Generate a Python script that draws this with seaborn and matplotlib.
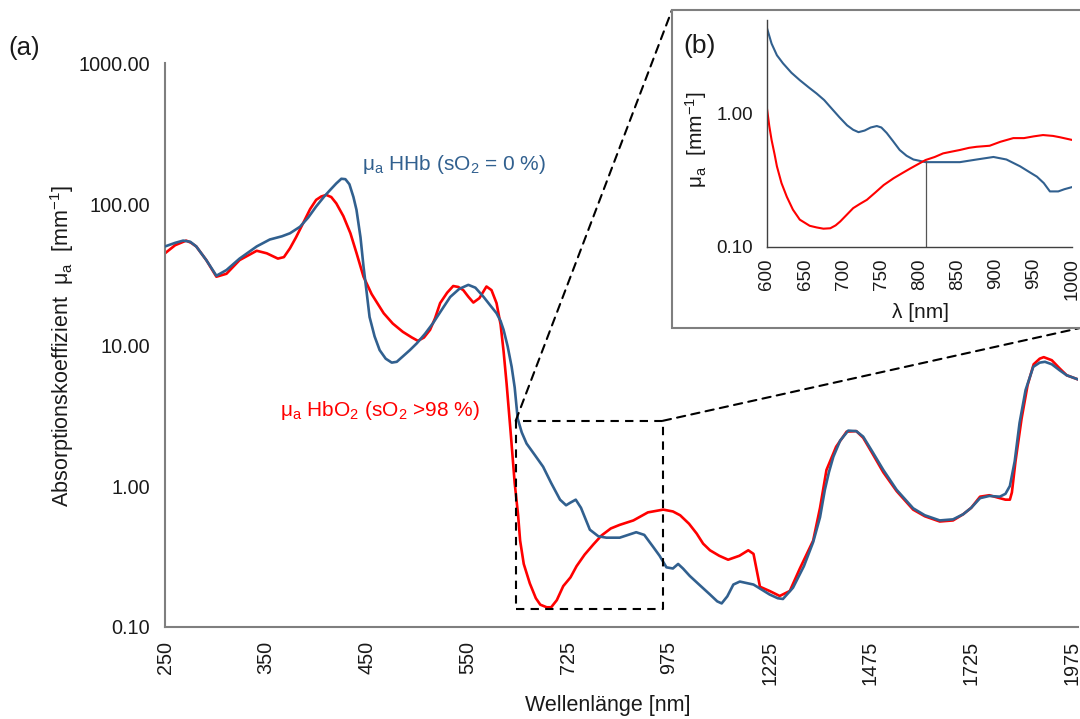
import numpy as np
import pandas as pd
import matplotlib
matplotlib.use("Agg")
import matplotlib.pyplot as plt
import seaborn as sns
from matplotlib.patches import Rectangle, ConnectionPatch
from matplotlib.ticker import NullLocator, FixedLocator, FixedFormatter

# ---------------- data (main panel) ----------------
wl_hhb = [250, 260, 268, 275, 281, 291, 301, 311, 324, 341, 354, 366, 374, 384, 392, 400, 408, 414, 420,
          425, 429, 433, 437, 440, 444, 447, 450, 453, 458, 463, 469, 475, 480, 486, 493, 500, 508, 516, 524,
          533, 542, 551, 558, 566, 573, 579, 583, 586, 590, 594, 597, 600, 610, 622, 643,
          663, 683, 705, 720, 730, 744, 757, 779, 800, 820, 853, 894, 914, 936, 952, 969, 985, 998,
          1010, 1027, 1050, 1077, 1095, 1106, 1120, 1135, 1151, 1185, 1225, 1245, 1258, 1283, 1310, 1333,
          1350, 1362, 1372, 1383, 1400, 1420, 1440, 1457, 1480, 1507, 1540, 1581, 1610, 1647, 1680, 1705,
          1725, 1747, 1770, 1796, 1810, 1821, 1833, 1845, 1860, 1879, 1895, 1908, 1925, 1945, 1962, 1990]
mu_hhb = [50, 53, 55, 54, 50, 40, 31, 34, 41, 50, 56, 59, 62, 69, 80, 96, 113, 126, 140,
          151, 150, 138, 112, 91, 58, 36, 24, 15.8, 11.5, 9.2, 8.0, 7.5, 7.6, 8.3, 9.2, 10.3, 12.0, 14.3, 17.5,
          21.9, 25, 26.7, 25.5, 22, 19, 16.8, 14.8, 12.8, 9.8, 7.0, 5.0, 3.0, 2.4, 2.0, 1.65,
          1.37, 1.05, 0.80, 0.73, 0.76, 0.80, 0.70, 0.49, 0.44, 0.43, 0.43, 0.47, 0.45, 0.37, 0.32, 0.265, 0.26, 0.28,
          0.26, 0.23, 0.20, 0.17, 0.152, 0.147, 0.165, 0.20, 0.21, 0.20, 0.17, 0.16, 0.158, 0.19, 0.27, 0.40,
          0.60, 0.94, 1.25, 1.61, 2.1, 2.47, 2.45, 2.24, 1.75, 1.30, 0.94, 0.695, 0.62, 0.57, 0.58, 0.63,
          0.70, 0.82, 0.85, 0.84, 0.88, 1.0, 1.5, 2.8, 4.8, 7.0, 7.5, 7.6, 7.3, 6.6, 6.1, 5.7]

wl_hbo2 = [250, 260, 271, 276, 281, 291, 301, 311, 324, 341, 351, 362, 368, 374, 380, 387, 394, 400, 405,
           410, 415, 420, 427, 434, 440, 447, 455, 467, 476, 486, 495, 501, 507, 513, 518, 523, 530, 536, 541,
           546, 551, 556, 562, 569, 574, 579, 583, 586, 589, 593, 597, 601, 606, 615, 630,
           645, 656, 672, 683, 697, 713, 731, 746, 766, 788, 808, 831, 853, 887, 923, 961, 985, 1003,
           1025, 1044, 1060, 1077, 1100, 1122, 1150, 1172, 1185, 1201, 1225, 1250, 1275, 1300, 1333,
           1350, 1366, 1390, 1416, 1440, 1457, 1480, 1507, 1540, 1581, 1610, 1647, 1680, 1705,
           1725, 1747, 1770, 1796, 1810, 1821, 1826, 1835, 1850, 1865, 1880, 1895, 1905, 1925, 1945, 1962, 1990]
mu_hbo2 = [44.7, 51, 55, 53, 50, 40, 30.5, 32, 40, 46.6, 44.7, 41, 42, 48.5, 58, 73, 92, 107, 113,
           116, 112, 101, 82, 62, 45, 30.5, 23, 16.8, 14.2, 12.4, 11.3, 10.7, 11.3, 12.8, 15.5, 19.8, 23.5, 26.2, 25.8,
           24.5, 22, 20, 21.5, 26, 24.5, 19.8, 14, 9, 5.3, 2.4, 1.05, 0.62, 0.41, 0.28, 0.204,
           0.16, 0.144, 0.138, 0.138, 0.155, 0.195, 0.225, 0.27, 0.326, 0.386, 0.446, 0.50, 0.53, 0.57, 0.65, 0.68, 0.66, 0.62,
           0.54, 0.46, 0.39, 0.35, 0.32, 0.30, 0.32, 0.35, 0.33, 0.193, 0.18, 0.166, 0.18, 0.26, 0.41,
           0.70, 1.30, 1.9, 2.43, 2.45, 2.2, 1.70, 1.25, 0.92, 0.68, 0.61, 0.56, 0.57, 0.63,
           0.70, 0.84, 0.86, 0.82, 0.80, 0.80, 0.90, 1.5, 3.0, 5.2, 7.3, 8.0, 8.2, 7.8, 6.8, 6.1, 5.7]

# ---------------- data (inset panel) ----------------
wl_hhb_in = [600, 606, 613, 621, 632, 643, 655, 665, 675, 683, 695, 705, 713, 720, 728, 736, 744, 750,
             757, 765, 774, 783, 792, 800, 808, 830, 853, 875, 897, 914, 932, 945,
             954, 963, 971, 982, 990, 1000]
mu_hhb_in = [4.3, 3.3, 2.7, 2.35, 2.0, 1.76, 1.55, 1.40, 1.25, 1.11, 0.93, 0.81, 0.75, 0.72, 0.74, 0.78, 0.80, 0.78,
             0.71, 0.62, 0.53, 0.48, 0.45, 0.44, 0.43, 0.43, 0.43, 0.45, 0.47, 0.45, 0.40, 0.36,
             0.335, 0.30, 0.26, 0.26, 0.27, 0.28]
wl_hbo2_in = [600, 603, 606, 610, 613, 619, 626, 634, 643, 656, 665, 674, 683, 690, 696, 705, 713, 722, 731,
              742, 753, 766, 777, 788, 798, 808, 820, 831, 842, 853, 865, 875, 892, 906, 923, 937, 950, 962, 975, 984, 1000]
mu_hbo2_in = [1.08, 0.80, 0.63, 0.49, 0.40, 0.30, 0.237, 0.19, 0.16, 0.144, 0.140, 0.137, 0.138, 0.145, 0.155, 0.175, 0.195, 0.21, 0.225,
              0.255, 0.29, 0.326, 0.355, 0.386, 0.415, 0.446, 0.47, 0.50, 0.515, 0.53, 0.55, 0.56, 0.57, 0.61, 0.65, 0.65, 0.67, 0.685, 0.675, 0.66, 0.63]

x_ticks = [250, 350, 450, 550, 725, 975, 1225, 1475, 1725, 1975]
y_ticks = [0.1, 1, 10, 100, 1000]
y_tick_labels = ["0.10", "1.00", "10.00", "100.00", "1000.00"]
inset_x_ticks = [600, 650, 700, 750, 800, 850, 900, 950, 1000]
inset_y_ticks = [0.1, 1]
inset_y_tick_labels = ["0.10", "1.00"]
zoom_wl = [598, 960]
zoom_mu = [0.134, 2.9]
cross_wl = 808
cross_mu = 0.44

BLUE = "#31608F"
RED = "#FF0000"
SPINE = "#7F7F7F"
TXT = "#1a1a1a"

sns.set_theme(style="white")
plt.rcParams["font.family"] = ["Liberation Sans", "DejaVu Sans"]
plt.rcParams["mathtext.fontset"] = "custom"
plt.rcParams["mathtext.rm"] = "Liberation Sans"
plt.rcParams["mathtext.it"] = "Liberation Sans"
plt.rcParams["mathtext.default"] = "regular"


def fwd(w):
    w = np.asarray(w, dtype=float)
    return np.where(w <= 600, w - 250, 350 + (w - 600) / 2.5)


def inv(p):
    p = np.asarray(p, dtype=float)
    return np.where(p <= 350, p + 250, 600 + (p - 350) * 2.5)


W, H = 1080, 719
fig = plt.figure(figsize=(W / 100, H / 100), dpi=100)
ax = fig.add_axes([165 / W, 1 - 627 / H, 913 / W, 564 / H])
ax.set_xscale("function", functions=(fwd, inv))
ax.set_yscale("log")

df_h = pd.DataFrame({"wl": wl_hhb, "mu": mu_hhb})
df_o = pd.DataFrame({"wl": wl_hbo2, "mu": mu_hbo2})
sns.lineplot(data=df_h, x="wl", y="mu", color=BLUE, lw=1.9, sort=False, estimator=None, ax=ax, zorder=3)
sns.lineplot(data=df_o, x="wl", y="mu", color=RED, lw=1.9, sort=False, estimator=None, ax=ax, zorder=2)

ax.set_xlim(250, 1990)
ax.set_ylim(0.1, 1000)
ax.xaxis.set_major_locator(FixedLocator(x_ticks))
ax.xaxis.set_major_formatter(FixedFormatter([str(t) for t in x_ticks]))
ax.xaxis.set_minor_locator(NullLocator())
ax.yaxis.set_major_locator(FixedLocator(y_ticks))
ax.yaxis.set_major_formatter(FixedFormatter(y_tick_labels))
ax.yaxis.set_minor_locator(NullLocator())
ax.tick_params(axis="both", length=0, labelsize=14.3, colors=TXT)
ax.tick_params(axis="x", rotation=90, pad=10)
ax.tick_params(axis="y", pad=11)
for s in ["top", "right"]:
    ax.spines[s].set_visible(False)
for s in ["left", "bottom"]:
    ax.spines[s].set_color(SPINE)
    ax.spines[s].set_linewidth(1.5)
ax.set_xlabel("")
ax.set_ylabel("")

fig.text(608 / W, 1 - 705 / H, "Wellenlänge [nm]", ha="center", va="center", fontsize=15.5, color=TXT)
fig.text(62 / W, 1 - 346 / H, r"Absorptionskoeffizient  μ$_a$  [mm$^{-1}$]", rotation=90,
         ha="center", va="center", fontsize=15.5, color=TXT)
fig.text(8 / W, 1 - 48 / H, "(a)", ha="left", va="center", fontsize=18.5, color=TXT)

fig.text(362 / W, 1 - 165 / H, r"μ$_a$ HHb (sO$_2$ = 0 %)", ha="left", va="center", fontsize=15, color=BLUE)
fig.text(280 / W, 1 - 410 / H, r"μ$_a$ HbO$_2$ (sO$_2$ >98 %)", ha="left", va="center", fontsize=15, color=RED)

# zoom box
bx = [zoom_wl[0], zoom_wl[1], zoom_wl[1], zoom_wl[0], zoom_wl[0]]
by = [zoom_mu[0], zoom_mu[0], zoom_mu[1], zoom_mu[1], zoom_mu[0]]
ax.plot(bx, by, color="black", lw=1.5, ls=(0, (4, 3)), zorder=4)

# inset frame
frame = Rectangle((672 / W, 1 - 328 / H), 1.02 - 672 / W, 318 / H, transform=fig.transFigure,
                  facecolor="white", edgecolor=SPINE, lw=1.5, zorder=5)
fig.patches.append(frame)

con1 = ConnectionPatch(xyA=(zoom_wl[0], zoom_mu[1]), coordsA=ax.transData,
                       xyB=(672 / W, 1 - 10 / H), coordsB=fig.transFigure,
                       color="black", lw=1.5, ls=(0, (4, 3)), zorder=4)
con2 = ConnectionPatch(xyA=(zoom_wl[1], zoom_mu[1]), coordsA=ax.transData,
                       xyB=(1.0, 1 - 328 / H), coordsB=fig.transFigure,
                       color="black", lw=1.5, ls=(0, (4, 3)), zorder=4)
fig.add_artist(con1)
fig.add_artist(con2)

# inset axes
ax2 = fig.add_axes([767 / W, 1 - 247 / H, 305 / W, 227 / H], zorder=6)
ax2.set_yscale("log")
sns.lineplot(x=wl_hhb_in, y=mu_hhb_in, color=BLUE, lw=1.5, sort=False, estimator=None, ax=ax2)
sns.lineplot(x=wl_hbo2_in, y=mu_hbo2_in, color=RED, lw=1.5, sort=False, estimator=None, ax=ax2)
ax2.plot([cross_wl, cross_wl], [0.1, cross_mu], color="#555555", lw=0.9)
ax2.set_xlim(600, 1000)
ax2.set_ylim(0.1, 4.95)
ax2.xaxis.set_major_locator(FixedLocator(inset_x_ticks))
ax2.xaxis.set_major_formatter(FixedFormatter([str(t) for t in inset_x_ticks]))
ax2.yaxis.set_major_locator(FixedLocator(inset_y_ticks))
ax2.yaxis.set_major_formatter(FixedFormatter(inset_y_tick_labels))
ax2.yaxis.set_minor_locator(NullLocator())
ax2.tick_params(axis="both", length=0, labelsize=13.5, colors=TXT)
ax2.tick_params(axis="x", rotation=90, pad=8)
ax2.tick_params(axis="y", pad=10)
for s in ["top", "right"]:
    ax2.spines[s].set_visible(False)
for s in ["left", "bottom"]:
    ax2.spines[s].set_color("#404040")
    ax2.spines[s].set_linewidth(1.0)
ax2.set_xlabel("")
ax2.set_ylabel("")
fig.text(920 / W, 1 - 313 / H, "λ [nm]", ha="center", va="center", fontsize=15, color=TXT, zorder=7)
fig.text(696 / W, 1 - 140 / H, r"μ$_a$  [mm$^{-1}$]", rotation=90, ha="center", va="center",
         fontsize=15, color=TXT, zorder=7)
fig.text(683 / W, 1 - 46 / H, "(b)", ha="left", va="center", fontsize=19, color=TXT, zorder=7)

fig.savefig("out.png", dpi=100)
